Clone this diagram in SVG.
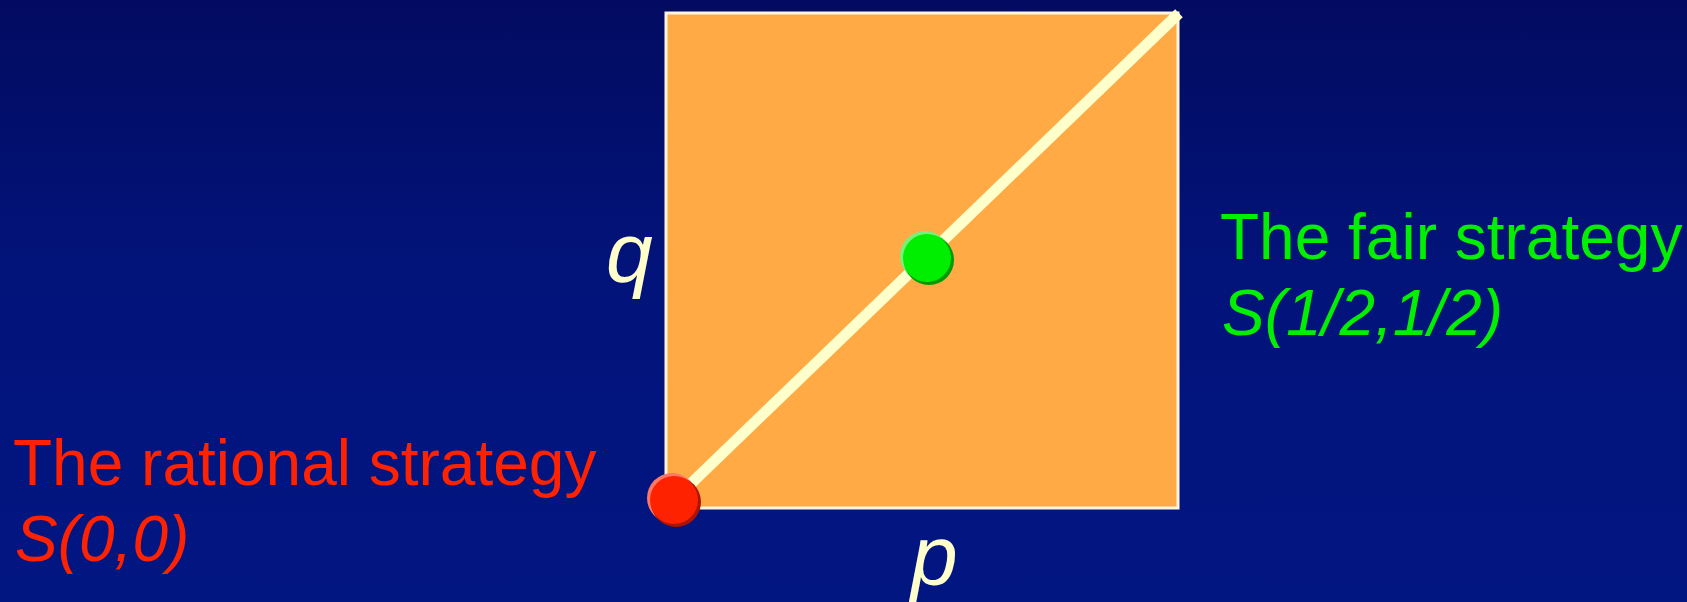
<svg xmlns="http://www.w3.org/2000/svg" width="1687" height="602" viewBox="0 0 1687 602">
  <defs>
    <linearGradient id="bg" x1="0" y1="0" x2="0" y2="1">
      <stop offset="0" stop-color="#020B60"/>
      <stop offset="0.45" stop-color="#02137A"/>
      <stop offset="1" stop-color="#021682"/>
    </linearGradient>
  </defs>
  <style>
    .lbl { font-family: "Liberation Sans", Arial, sans-serif; font-size: 64px; }
    .it { font-style: italic; }
    .axis { font-family: "Liberation Sans", Arial, sans-serif; font-size: 84px; font-style: italic; fill: #FFFFCC; }
    .red { fill: #FF2200; }
    .green { fill: #00F000; }
  </style>
  <rect x="0" y="0" width="1687" height="602" fill="url(#bg)"/>
  <g id="square">
    <rect x="666" y="13" width="512" height="495" fill="#FFAA44" stroke="#FFF6E0" stroke-width="3"/>
  </g>
  <g id="connectors">
    <line x1="674" y1="500" x2="1175" y2="17" stroke="#FFFFCC" stroke-width="11" stroke-linecap="square"/>
  </g>
  <g id="label-q">
    <text class="axis" x="606" y="282">q</text>
  </g>
  <g id="label-p">
    <text class="axis" x="911" y="585">p</text>
  </g>
  <g id="fair-point">
    <circle cx="925" cy="256" r="25" fill="#77F077"/>
    <circle cx="929" cy="260" r="25" fill="#009A00"/>
    <circle cx="927" cy="258" r="24" fill="#00EE00"/>
  </g>
  <g id="rational-point">
    <circle cx="672" cy="498" r="25" fill="#FF7766"/>
    <circle cx="676" cy="502" r="25" fill="#AA1500"/>
    <circle cx="674" cy="500" r="24" fill="#FF2200"/>
  </g>
  <g id="fair-label">
    <text class="lbl green" x="1220" y="259">The fair strategy</text>
    <text class="lbl green it" x="1222" y="335">S(1/2,1/2)</text>
  </g>
  <g id="rational-label">
    <text class="lbl red" x="13" y="485">The rational strategy</text>
    <text class="lbl red it" x="15" y="561">S(0,0)</text>
  </g>
</svg>
